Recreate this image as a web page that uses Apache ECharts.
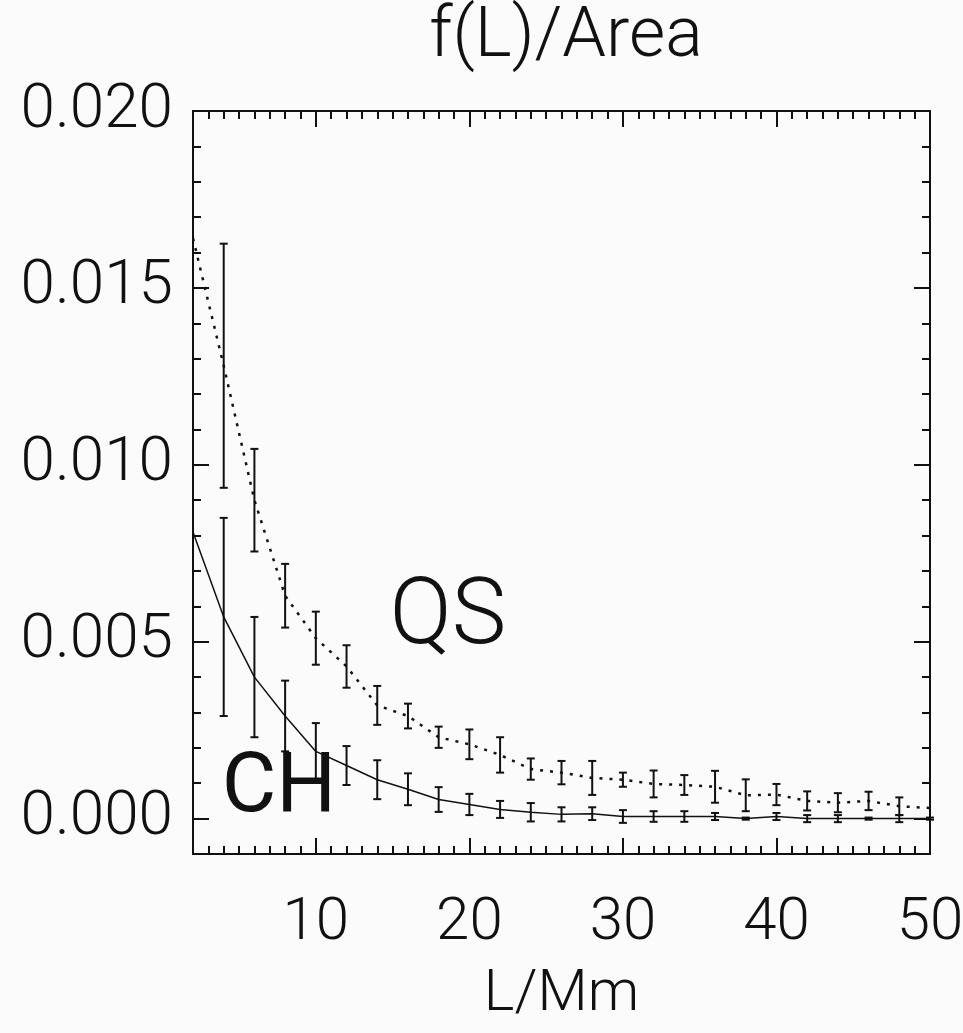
<!DOCTYPE html>
<html>
<head>
<meta charset="utf-8">
<script src="https://cdn.jsdelivr.net/npm/echarts@6/dist/echarts.min.js"></script>
<style>
  html, body { margin: 0; padding: 0; background: #fbfbfb; }
  #chart { width: 963px; height: 1033px; }
</style>
</head>
<body>
<div id="chart"></div>
<script>
// loop length L (Mm)
const lengths = [2, 4, 6, 8, 10, 12, 14, 16, 18, 20, 22, 24, 26, 28, 30, 32, 34, 36, 38, 40, 42, 44, 46, 48, 50];
// quiet sun
const qsValues = [0.0164, 0.0128, 0.0090, 0.0063, 0.0051, 0.0043, 0.0032, 0.0029, 0.0023, 0.0021, 0.0018, 0.0014, 0.0013,
  0.00115, 0.0011, 0.00098, 0.00095, 0.0009, 0.00066, 0.00068, 0.0005, 0.00045, 0.0005, 0.00035, 0.0003];
const qsErrors = [null, 0.00345, 0.00145, 0.0009, 0.00075, 0.0006, 0.00055, 0.00035, 0.0003, 0.00042, 0.0005, 0.0003, 0.00033,
  0.00048, 0.0002, 0.00038, 0.00028, 0.00045, 0.00045, 0.0003, 0.00027, 0.00027, 0.00026, 0.00025, null];
// coronal hole
const chValues = [0.0081, 0.0057, 0.0040, 0.0029, 0.0019, 0.0015, 0.0011, 0.00083, 0.00054, 0.0004, 0.00026, 0.00018, 0.00012,
  0.00014, 0.00006, 0.00006, 0.00006, 0.00006, 0.0, 0.00006, 0.0, 0.0, 0.0, 0.0, 0.0];
const chErrors = [null, 0.0028, 0.0017, 0.001, 0.0008, 0.00055, 0.00055, 0.00045, 0.00035, 0.0003, 0.00024, 0.00026, 0.0002,
  0.00018, 0.00018, 0.00015, 0.00015, 0.0001, 0.00003, 0.0001, 0.0001, 0.0001, 0.00003, 0.0001, 0.00003];

// ticks
const xMajorTicks = [10, 20, 30, 40];
const xTickLabels = [10, 20, 30, 40, 50];
const yMajorTicks = [0, 0.005, 0.010, 0.015, 0.020];

const FONT = "Roboto, 'DejaVu Sans', sans-serif";
const INK = "#111";

const pairs = (vals) => lengths.map((x, i) => [x, vals[i]]);
const bars = (vals, errs) =>
  lengths.map((x, i) => (errs[i] == null ? null : [x, vals[i] - errs[i], vals[i] + errs[i]])).filter(Boolean);

// vertical error bar with small caps
const renderBar = (params, api) => {
  const lo = api.coord([api.value(0), api.value(1)]);
  const hi = api.coord([api.value(0), api.value(2)]);
  const w = 4;
  const style = { stroke: INK, lineWidth: 2 };
  return {
    type: "group",
    children: [
      { type: "line", shape: { x1: lo[0], y1: lo[1], x2: hi[0], y2: hi[1] }, style },
      { type: "line", shape: { x1: lo[0] - w, y1: lo[1], x2: lo[0] + w, y2: lo[1] }, style },
      { type: "line", shape: { x1: hi[0] - w, y1: hi[1], x2: hi[0] + w, y2: hi[1] }, style },
    ],
  };
};

const gridBox = { left: 193, right: 33, top: 111, bottom: 179, outerBoundsMode: "none", containLabel: false };
const frameLine = { show: true, onZero: false, lineStyle: { color: INK, width: 2 } };

const majorX = (pos, labels) => ({
  type: "value", gridIndex: 0, position: pos, min: 2, max: 50,
  axisLine: frameLine,
  axisTick: { inside: true, length: 16, customValues: xMajorTicks, lineStyle: { color: INK, width: 2 } },
  axisLabel: labels
    ? { show: true, customValues: xTickLabels, margin: 40, color: INK, fontFamily: FONT, fontWeight: 300, fontSize: 60 }
    : { show: false },
  splitLine: { show: false },
});
const minorX = (pos) => ({
  type: "value", gridIndex: 1, position: pos, min: 2, max: 50, interval: 1,
  axisLine: { show: false, onZero: false },
  axisTick: { inside: true, length: 8, lineStyle: { color: INK, width: 2 } },
  axisLabel: { show: false },
  splitLine: { show: false },
});
const majorY = (pos, labels) => ({
  type: "value", gridIndex: 0, position: pos, min: -0.001, max: 0.02,
  axisLine: frameLine,
  axisTick: { inside: true, length: 16, customValues: yMajorTicks, lineStyle: { color: INK, width: 2 } },
  axisLabel: labels
    ? { show: true, customValues: yMajorTicks, margin: 20, color: INK, fontFamily: FONT, fontWeight: 300, fontSize: 62,
        formatter: (v) => v.toFixed(3) }
    : { show: false },
  splitLine: { show: false },
});
const minorY = (pos) => ({
  type: "value", gridIndex: 1, position: pos, min: -0.001, max: 0.02, interval: 0.001,
  axisLine: { show: false, onZero: false },
  axisTick: { inside: true, length: 8, lineStyle: { color: INK, width: 2 } },
  axisLabel: { show: false },
  splitLine: { show: false },
});

const chart = echarts.init(document.getElementById("chart"));

chart.setOption({
  backgroundColor: "#fbfbfb",
  animation: false,
  title: {
    text: "f(L)/Area",
    left: 561, top: -2, textAlign: "center",
    textStyle: { color: INK, fontFamily: FONT, fontWeight: 300, fontSize: 70 },
  },
  grid: [Object.assign({}, gridBox), Object.assign({}, gridBox)],
  xAxis: [
    Object.assign(majorX("bottom", true), {
      name: "L/Mm", nameLocation: "middle", nameGap: 112,
      nameTextStyle: { color: INK, fontFamily: FONT, fontWeight: 300, fontSize: 58 },
    }),
    majorX("top", false),
    minorX("bottom"),
    minorX("top"),
  ],
  yAxis: [majorY("left", true), majorY("right", false), minorY("left"), minorY("right")],
  series: [
    {
      name: "QS", type: "line", xAxisIndex: 0, yAxisIndex: 0,
      data: pairs(qsValues), symbol: "none",
      lineStyle: { color: INK, width: 2.5, type: [3, 7] },
      markPoint: {
        symbol: "circle", symbolSize: 0,
        label: { show: true, position: "inside", formatter: "QS", color: INK, fontFamily: FONT, fontWeight: 300, fontSize: 92 },
        data: [{ coord: [18.6, 0.0056] }],
      },
    },
    {
      name: "CH", type: "line", xAxisIndex: 0, yAxisIndex: 0,
      data: pairs(chValues), symbol: "none",
      lineStyle: { color: INK, width: 1.5 },
      markPoint: {
        symbol: "circle", symbolSize: 0,
        label: { show: true, position: "inside", formatter: "CH", color: INK, fontFamily: FONT, fontWeight: 400, fontSize: 84 },
        data: [{ coord: [7.6, 0.0008] }],
      },
    },
    { type: "custom", xAxisIndex: 0, yAxisIndex: 0, renderItem: renderBar, data: bars(qsValues, qsErrors), encode: { x: 0, y: [1, 2] } },
    { type: "custom", xAxisIndex: 0, yAxisIndex: 0, renderItem: renderBar, data: bars(chValues, chErrors), encode: { x: 0, y: [1, 2] } },
  ],
});
</script>
</body>
</html>
